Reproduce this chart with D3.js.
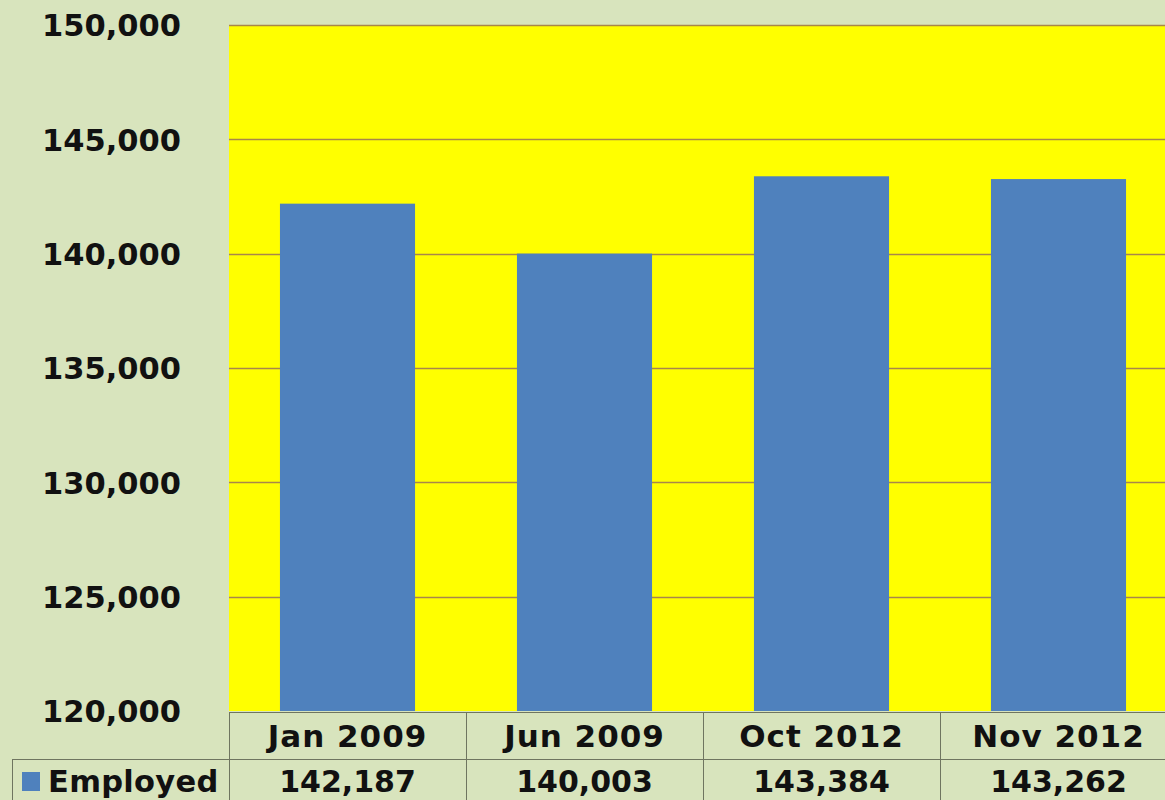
<!DOCTYPE html>
<html>
<head>
<meta charset="utf-8">
<script src="https://cdn.jsdelivr.net/npm/d3@7"></script>
<style>
  html, body { margin: 0; padding: 0; background: #d8e4bd; }
  svg { display: block; }
  text { font-family: "DejaVu Sans", Verdana, sans-serif; font-weight: bold; fill: #111; }
</style>
</head>
<body>
<svg id="chart" width="1165" height="800"></svg>
<script>
const categories = ["Jan 2009", "Jun 2009", "Oct 2012", "Nov 2012"];
const seriesName = "Employed";
const employed = [142187, 140003, 143384, 143262];
const yTicks = [120000, 125000, 130000, 135000, 140000, 145000, 150000];

const W = 1165, H = 800;
const plot = { left: 229, right: 1177, top: 25, bottom: 711 };
const rowH = [47, 47];

const svg = d3.select("#chart");
svg.append("rect").attr("width", W).attr("height", H).attr("fill", "#d8e4bd");

const x = d3.scaleBand().domain(categories).range([plot.left, plot.right])
  .paddingInner(0.43).paddingOuter(0.215);
const xCell = d3.scaleBand().domain(categories).range([plot.left, plot.right]);
const y = d3.scaleLinear().domain([120000, 150000]).range([plot.bottom, plot.top]);
const fmt = d3.format(",");

// plot area
svg.append("rect")
  .attr("x", plot.left).attr("y", plot.top)
  .attr("width", plot.right - plot.left).attr("height", plot.bottom - plot.top)
  .attr("fill", "#ffff00");

// gridlines
svg.append("g").selectAll("line").data(yTicks.filter(d => d > 120000)).join("line")
  .attr("x1", plot.left).attr("x2", plot.right)
  .attr("y1", d => Math.round(y(d)) + 0.5).attr("y2", d => Math.round(y(d)) + 0.5)
  .attr("stroke", "#a8864a").attr("stroke-width", 1.3);

// bars
svg.append("g").selectAll("rect").data(employed).join("rect")
  .attr("x", (d, i) => x(categories[i]))
  .attr("width", x.bandwidth())
  .attr("y", d => y(d))
  .attr("height", d => y(120000) - y(d))
  .attr("fill", "#4f81bd");

// y axis labels
const yAxis = d3.axisLeft(y).tickValues(yTicks).tickFormat(fmt).tickSize(0).tickPadding(0);
const gy = svg.append("g").attr("transform", "translate(181,0)").call(yAxis);
gy.select(".domain").remove();
gy.selectAll("text")
  .attr("font-family", "'DejaVu Sans', Verdana, sans-serif")
  .attr("font-weight", "bold")
  .attr("font-size", 30.5)
  .attr("fill", "#111")
  .attr("dy", "0.36em");

// data table
const tTop = plot.bottom + 1;
const r1 = tTop + rowH[0];
const r2 = r1 + rowH[1];
const lineCol = "#6f7560";
const tbl = svg.append("g").attr("stroke", lineCol).attr("stroke-width", 1);
tbl.append("line").attr("x1", plot.left).attr("x2", plot.right).attr("y1", tTop + 0.5).attr("y2", tTop + 0.5);
tbl.append("line").attr("x1", 12).attr("x2", plot.right).attr("y1", r1 + 0.5).attr("y2", r1 + 0.5);
tbl.append("line").attr("x1", 12.5).attr("x2", 12.5).attr("y1", r1).attr("y2", r2);
tbl.selectAll("line.v").data(categories.map(c => xCell(c)).concat([plot.right])).join("line")
  .attr("class", "v")
  .attr("x1", d => Math.round(d) + 0.5).attr("x2", d => Math.round(d) + 0.5)
  .attr("y1", tTop).attr("y2", r2);

svg.append("g").selectAll("text").data(categories).join("text")
  .attr("x", d => xCell(d) + xCell.bandwidth() / 2)
  .attr("y", (tTop + r1) / 2)
  .attr("dy", "0.36em")
  .attr("text-anchor", "middle")
  .attr("font-size", 31)
  .attr("letter-spacing", 1)
  .text(d => d);

svg.append("g").selectAll("text").data(employed).join("text")
  .attr("x", (d, i) => xCell(categories[i]) + xCell.bandwidth() / 2)
  .attr("y", r1 + 22)
  .attr("dy", "0.36em")
  .attr("text-anchor", "middle")
  .attr("font-size", 30)
  .text(d => fmt(d));

// legend key
svg.append("rect").attr("x", 22).attr("y", r1 + 13).attr("width", 18).attr("height", 19).attr("fill", "#4f81bd");
svg.append("text").attr("x", 48).attr("y", r1 + 22).attr("dy", "0.36em")
  .attr("font-size", 30.5).attr("letter-spacing", 0.3).text(seriesName);
</script>
</body>
</html>
